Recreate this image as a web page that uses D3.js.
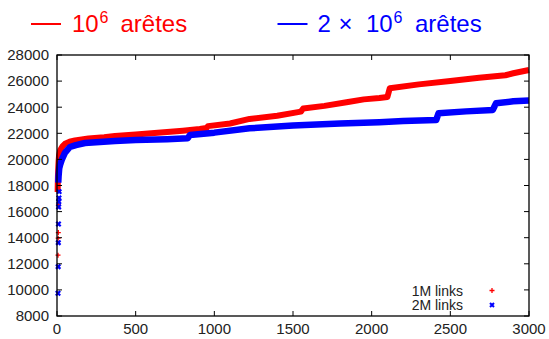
<!DOCTYPE html>
<html>
<head>
<meta charset="utf-8">
<script src="https://cdn.jsdelivr.net/npm/d3@7"></script>
<style>
  html, body { margin: 0; padding: 0; background: #fff; }
  svg { display: block; font-family: "Liberation Sans", Arial, sans-serif; }
</style>
</head>
<body>
<div id="chart"></div>
<script>
(function () {
    "use strict";

    // ── Data ──
    const xTicks = [0, 500, 1000, 1500, 2000, 2500, 3000];
    const yTicks = [8000, 10000, 12000, 14000, 16000, 18000, 20000, 22000, 24000, 26000, 28000];

    // 1M links: isolated low points, then the dense sorted run
    const redLowX = [0, 1, 2, 3];
    const redLowY = [12660, 13960, 14390, 16510];
    const redX = [4, 5, 6, 8, 10, 13, 20, 35, 51, 80, 114, 200, 300, 368, 500, 600, 700, 800, 907, 950, 960,
                  1100, 1224, 1400, 1550, 1565, 1700, 1850, 1950, 2049, 2100, 2115, 2300, 2500, 2683, 2850, 2900, 3000];
    const redY = [17500, 18200, 18700, 19300, 19800, 20300, 20700, 21000, 21200, 21350, 21450, 21600, 21700, 21800,
                  21900, 22000, 22100, 22200, 22330, 22400, 22550, 22750, 23100, 23350, 23660, 23900, 24100, 24400,
                  24600, 24700, 24780, 25450, 25750, 26000, 26250, 26450, 26600, 26850];

    // 2M links
    const blueLowX = [0, 1, 2, 3, 4, 5, 6, 7];
    const blueLowY = [9740, 11780, 13620, 15050, 16360, 16760, 17050, 17530];
    const blueX = [8, 10, 14, 20, 30, 50, 82, 120, 178, 368, 500, 700, 831, 845, 1000, 1224, 1500, 1800, 2049,
                   2200, 2410, 2425, 2600, 2770, 2790, 2900, 3000];
    const blueY = [18220, 18700, 19300, 19600, 19960, 20500, 20950, 21100, 21260, 21410, 21480, 21550, 21620,
                   21870, 22050, 22380, 22600, 22750, 22850, 22940, 23010, 23540, 23680, 23790, 24300, 24450, 24510];

    const W = 549, H = 339;
    const red = "#ff0000", blue = "#0000ff", ink = "#222";

    const svg = d3.select("#chart").append("svg")
        .attr("width", W).attr("height", H);

    const x = d3.scaleLinear().domain([0, 3000]).range([57, 529]);
    const y = d3.scaleLinear().domain([8000, 28000]).range([316, 55]);

    const zip = (xs, ys) => xs.map((v, i) => [v, ys[i]]);
    const line = d3.line().x(d => x(d[0])).y(d => y(d[1]));

    // ── Series bands (dense points look like a thick line) ──
    svg.append("path")
        .datum(zip(redX, redY))
        .attr("d", line)
        .attr("fill", "none").attr("stroke", red)
        .attr("stroke-width", 6).attr("stroke-linejoin", "round");

    svg.append("path")
        .datum(zip(blueX, blueY))
        .attr("d", line)
        .attr("fill", "none").attr("stroke", blue)
        .attr("stroke-width", 6.5).attr("stroke-linejoin", "round");

    // ── Point markers ──
    function plus(sel, s) {
        return sel.append("path").attr("d", `M${-s},0H${s}M0,${-s}V${s}`);
    }
    function cross(sel, s) {
        return sel.append("path").attr("d", `M${-s},${-s}L${s},${s}M${-s},${s}L${s},${-s}`);
    }

    svg.append("g").selectAll("g")
        .data(zip(redLowX, redLowY))
        .join("g")
        .attr("transform", d => `translate(${x(d[0]) + 1},${y(d[1])})`)
        .each(function () { plus(d3.select(this), 2.5).attr("stroke", red).attr("stroke-width", 1.3); });

    svg.append("g").selectAll("g")
        .data(zip(blueLowX, blueLowY))
        .join("g")
        .attr("transform", d => `translate(${x(d[0]) + 1},${y(d[1])})`)
        .each(function () { cross(d3.select(this), 2.2).attr("stroke", blue).attr("stroke-width", 2.2); });

    // ── Frame and ticks (gnuplot style, inward, mirrored) ──
    const [x0, x1] = x.range();
    const [yb, yt] = y.range();
    const tl = 5;

    svg.append("rect")
        .attr("x", x0).attr("y", yt)
        .attr("width", x1 - x0).attr("height", yb - yt)
        .attr("fill", "none").attr("stroke", "#000").attr("stroke-width", 1.3);

    const ticks = svg.append("g").attr("stroke", "#000").attr("stroke-width", 1);
    xTicks.forEach(t => {
        ticks.append("line").attr("x1", x(t)).attr("x2", x(t)).attr("y1", yb).attr("y2", yb - tl);
        ticks.append("line").attr("x1", x(t)).attr("x2", x(t)).attr("y1", yt).attr("y2", yt + tl);
    });
    yTicks.forEach(t => {
        ticks.append("line").attr("x1", x0).attr("x2", x0 + tl).attr("y1", y(t)).attr("y2", y(t));
        ticks.append("line").attr("x1", x1).attr("x2", x1 - tl).attr("y1", y(t)).attr("y2", y(t));
    });

    svg.append("g").selectAll("text")
        .data(xTicks).join("text")
        .attr("x", d => x(d)).attr("y", 334)
        .attr("text-anchor", "middle")
        .attr("font-size", 15).attr("fill", ink)
        .text(d => d);

    svg.append("g").selectAll("text")
        .data(yTicks).join("text")
        .attr("x", 49).attr("y", d => y(d) + 5.3)
        .attr("text-anchor", "end")
        .attr("font-size", 15).attr("fill", ink)
        .text(d => d);

    // ── Inner key ──
    const key = svg.append("g").attr("font-size", 14).attr("fill", ink);
    key.append("text").attr("x", 463).attr("y", 295.5).attr("text-anchor", "end").text("1M links");
    key.append("text").attr("x", 463).attr("y", 310).attr("text-anchor", "end").text("2M links");
    plus(svg.append("g").attr("transform", "translate(492,290.5)"), 2.5)
        .attr("stroke", red).attr("stroke-width", 1.3);
    cross(svg.append("g").attr("transform", "translate(492,305)"), 2)
        .attr("stroke", blue).attr("stroke-width", 2);

    // ── Top legend ──
    function headline(color, x0, parts) {
        const g = svg.append("g").attr("fill", color);
        g.append("line").attr("x1", x0).attr("x2", x0 + 30).attr("y1", 24).attr("y2", 24)
            .attr("stroke", color).attr("stroke-width", 2);
        parts.forEach(p => {
            g.append("text").attr("x", p.x).attr("y", p.sup ? 23 : 32)
                .attr("font-size", p.sup ? 16 : 24).text(p.t);
        });
    }
    headline(red, 31, [
        { x: 72, t: "10" }, { x: 99.5, t: "6", sup: true }, { x: 120.5, t: "arêtes" }
    ]);
    headline(blue, 277.5, [
        { x: 317.5, t: "2" }, { x: 338.5, t: "×" }, { x: 366, t: "10" },
        { x: 393.5, t: "6", sup: true }, { x: 415, t: "arêtes" }
    ]);
})();
</script>
</body>
</html>
